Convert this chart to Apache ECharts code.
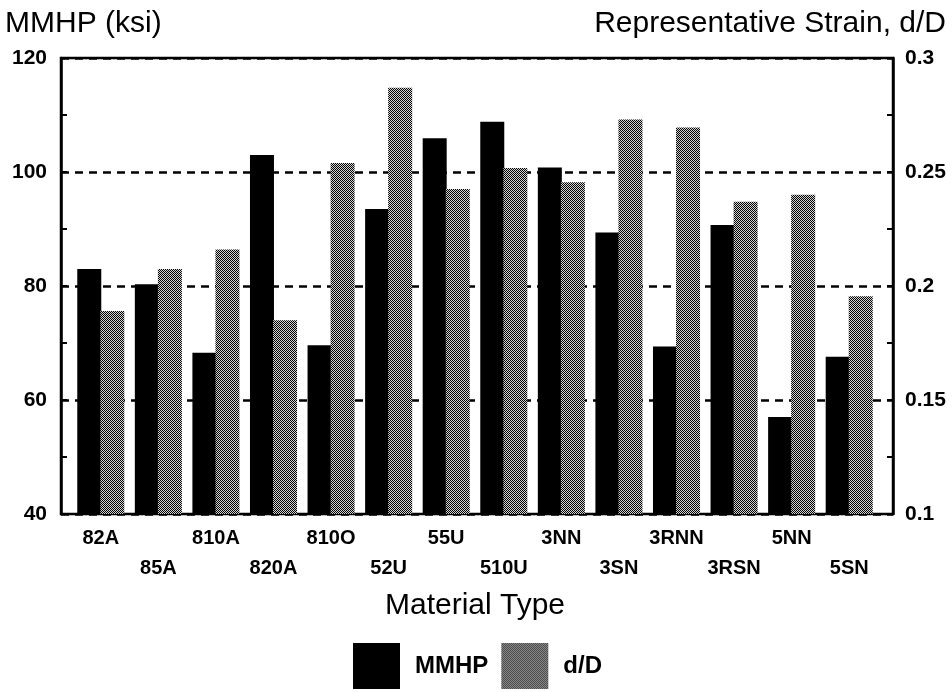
<!DOCTYPE html>
<html>
<head>
<meta charset="utf-8">
<script src="https://cdn.jsdelivr.net/npm/echarts@6/dist/echarts.min.js"></script>
<style>
  html, body { margin: 0; padding: 0; background: #fff; }
  #main { width: 952px; height: 692px; }
</style>
</head>
<body>
<div id="main"></div>
<script>
// data
var categories = ['82A', '85A', '810A', '820A', '810O', '52U', '55U', '510U', '3NN', '3SN', '3RNN', '3RSN', '5NN', '5SN'];
var mmhp = [83.0, 80.3, 68.3, 103.0, 69.6, 93.5, 105.9, 108.8, 100.8, 89.4, 69.4, 90.7, 57.0, 67.6];
var strain = [0.189, 0.2075, 0.216, 0.185, 0.254, 0.287, 0.2425, 0.2518, 0.2455, 0.273, 0.2695, 0.237, 0.240, 0.1955];

var font = "'Liberation Sans', Arial, sans-serif";

// halftone look for the d/D bars
var pat = document.createElement('canvas');
pat.width = 4; pat.height = 4;
var ctx = pat.getContext('2d');
ctx.fillStyle = '#d4d4d4';
ctx.fillRect(0, 0, 4, 4);
ctx.fillStyle = '#000';
for (var px = 0; px < 4; px++) {
    for (var py = 0; py < 4; py++) {
        if ((px + py) % 2 === 0) ctx.fillRect(px, py, 1, 1);
    }
}

var myChart = echarts.init(document.getElementById('main'));

var option = {
    backgroundColor: '#fff',
    animation: false,
    title: [
        { text: 'MMHP (ksi)', left: 5, top: 9, padding: 0,
          textStyle: { fontFamily: font, fontSize: 30, fontWeight: 'normal', color: '#000' } },
        { text: 'Representative Strain, d/D', right: 6, top: 9, padding: 0,
          textStyle: { fontFamily: font, fontSize: 30, fontWeight: 'normal', color: '#000' } }
    ],
    legend: {
        data: ['MMHP', 'd/D'],
        left: 353,
        top: 643,
        padding: 0,
        icon: 'rect',
        itemWidth: 47,
        itemHeight: 46,
        itemGap: 13,
        textStyle: { fontFamily: font, fontSize: 24, fontWeight: 'bold', color: '#000', padding: [0, 0, 0, 10] }
    },
    grid: [
        // frame
        { left: 61, right: 59, top: 58, bottom: 178, show: true, borderColor: '#000', borderWidth: 2.5 },
        // bars
        { left: 72, right: 74, top: 58, bottom: 178 }
    ],
    xAxis: [
        { gridIndex: 0, type: 'value', show: false, min: 0, max: 1 },
        {
            gridIndex: 1,
            type: 'category',
            data: categories,
            axisLine: { show: false },
            axisTick: { show: false },
            axisLabel: {
                interval: 0,
                hideOverlap: false,
                margin: 9,
                lineHeight: 30,
                fontFamily: font,
                fontSize: 20,
                fontWeight: 'bold',
                color: '#000',
                formatter: function (v, i) { return i % 2 ? '\n' + v : v; }
            },
            name: 'Material Type',
            nameLocation: 'middle',
            nameGap: 77,
            nameTextStyle: { fontFamily: font, fontSize: 30, color: '#000' }
        }
    ],
    yAxis: [
        {
            gridIndex: 0,
            type: 'value',
            position: 'left',
            min: 40, max: 120, interval: 20,
            axisLine: { show: true, lineStyle: { color: '#000', width: 2.5 } },
            axisTick: { show: true, inside: true, length: 6, lineStyle: { color: '#000', width: 2 } },
            minorTick: { show: true, splitNumber: 2, length: 6, lineStyle: { color: '#000', width: 2 } },
            axisLabel: { margin: 14, fontFamily: font, fontSize: 21, fontWeight: 'bold', color: '#000' },
            splitLine: { show: true, lineStyle: { color: '#000', width: 2.5, type: [8, 6] } }
        },
        {
            gridIndex: 0,
            type: 'value',
            position: 'right',
            min: 0.1, max: 0.3, interval: 0.05,
            axisLine: { show: true, lineStyle: { color: '#000', width: 2.5 } },
            axisTick: { show: true, inside: true, length: 6, lineStyle: { color: '#000', width: 2 } },
            minorTick: { show: true, splitNumber: 2, length: 6, lineStyle: { color: '#000', width: 2 } },
            axisLabel: { margin: 12, fontFamily: font, fontSize: 21, fontWeight: 'bold', color: '#000' },
            splitLine: { show: false }
        },
        { gridIndex: 1, type: 'value', min: 40, max: 120, show: false, splitLine: { show: false } },
        { gridIndex: 1, type: 'value', min: 0.1, max: 0.3, show: false, splitLine: { show: false } }
    ],
    series: [
        {
            name: 'MMHP',
            type: 'bar',
            xAxisIndex: 1,
            yAxisIndex: 2,
            barWidth: 24,
            barGap: '-4%',
            itemStyle: { color: '#000' },
            data: mmhp
        },
        {
            name: 'd/D',
            type: 'bar',
            xAxisIndex: 1,
            yAxisIndex: 3,
            barWidth: 24,
            itemStyle: { color: { image: pat, repeat: 'repeat' } },
            data: strain
        }
    ]
};

myChart.setOption(option);
</script>
</body>
</html>
